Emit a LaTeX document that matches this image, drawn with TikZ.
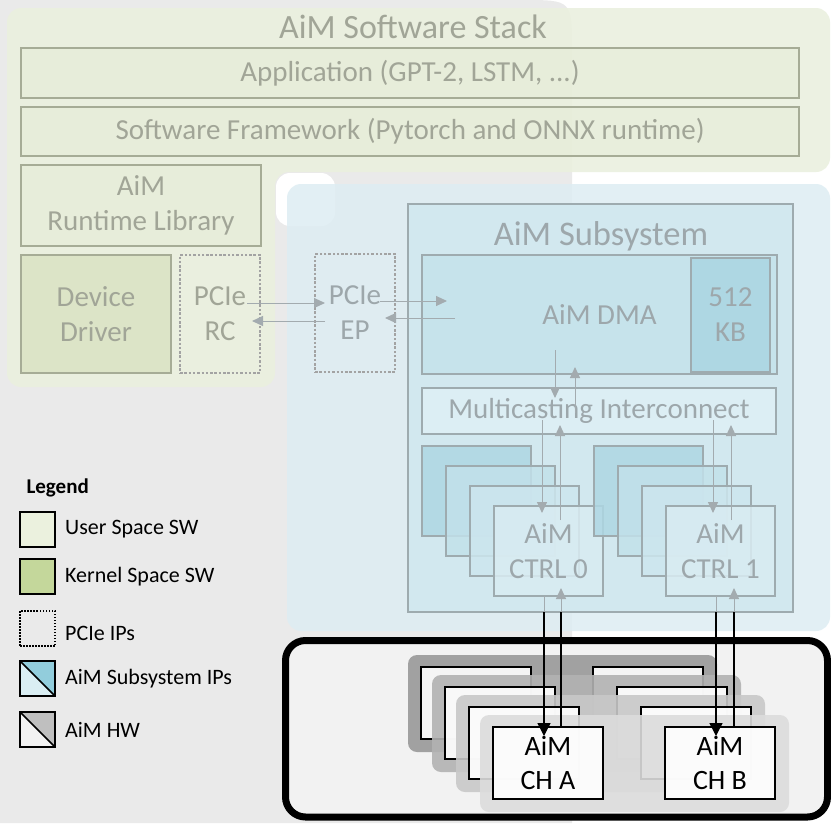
\documentclass[tikz,border=0pt]{standalone}
\usepackage{fontspec}
\setmainfont{Carlito}
\usepackage{tikz}
\usetikzlibrary{arrows.meta,positioning}

\definecolor{bggray}{HTML}{EAEAEA}
\definecolor{swpanel}{HTML}{EAF0DE}
\definecolor{swfill}{HTML}{E4ECD6}
\definecolor{kdfill}{HTML}{CBD8AB}
\definecolor{swline}{HTML}{A6AC96}
\definecolor{swtext}{HTML}{A1A597}
\definecolor{pcieline}{HTML}{A3A3A3}
\definecolor{ippanel}{HTML}{DEEDF3}
\definecolor{ssfill}{HTML}{D2E8EF}
\definecolor{dmafill}{HTML}{C6E3EB}
\definecolor{kbfill}{HTML}{AED7E3}
\definecolor{mifill}{HTML}{DCEEF4}
\definecolor{c2fill}{HTML}{C2E1EA}
\definecolor{c3fill}{HTML}{CDE6EE}
\definecolor{c4fill}{HTML}{D9ECF2}
\definecolor{ipline}{HTML}{9EABAF}
\definecolor{iptext}{HTML}{9DA7AB}
\definecolor{arrgray}{HTML}{A3ABAF}
\definecolor{hwbg}{HTML}{F2F2F2}
\definecolor{hw1}{HTML}{999999}
\definecolor{hw2}{HTML}{B2B2B2}
\definecolor{hw3}{HTML}{C8C8C8}
\definecolor{hw4}{HTML}{DCDCDC}
\definecolor{lguser}{HTML}{EBF1DE}
\definecolor{lgkern}{HTML}{C4D79B}
\definecolor{lgipd}{HTML}{92CDDC}
\definecolor{lgipl}{HTML}{DAEEF3}
\definecolor{lghw}{HTML}{BFBFBF}

\begin{document}
\begin{tikzpicture}[x=1pt,y=-1pt,
  blk/.style={inner sep=0pt,outer sep=0pt,anchor=north west,align=center,line width=1.5pt},
  swbox/.style={blk,draw=swline,fill=swfill,fill opacity=0.45,text opacity=1,text=swtext,font=\fontsize{29}{35}\selectfont},
  pcie/.style={blk,draw=pcieline,dash pattern=on 2.5pt off 1.8pt,line width=1.3pt,minimum width=80pt,minimum height=118pt,font=\fontsize{29}{35}\selectfont},
  ipbox/.style={blk,draw=ipline,text=iptext,font=\fontsize{29}{35}\selectfont},
  ctrl/.style={ipbox,fill=#1,minimum width=109pt,minimum height=90pt,fill opacity=0.85,text opacity=1},
  hwlayer/.style={fill=#1,fill opacity=0.9,rounded corners=9pt},
  chan/.style={blk,draw=black,fill=white,fill opacity=0.9,text opacity=1,minimum width=110pt,minimum height=72pt,font=\fontsize{28}{34}\selectfont},
  arr/.style={draw=arrgray,line width=1pt,-{Triangle[length=11pt,width=10pt]}},
  hwarr/.style={draw=black,line width=1.3pt,-{Triangle[length=13pt,width=13pt]}},
  swatch/.style={blk,draw=black,minimum width=35pt,minimum height=35pt},
  halfbox/.style={path picture={
    \fill[#1] (path picture bounding box.north west) -- (path picture bounding box.north east) -- (path picture bounding box.south east) -- cycle;
    \draw[line width=1.5pt] (path picture bounding box.north west) -- (path picture bounding box.south east);}},
  lgtext/.style={inner sep=0pt,anchor=west,font=\fontsize{22}{26}\selectfont},
]
\useasboundingbox (0,0) rectangle (831,823);

% background
\fill[white] (0,0) rectangle (831,823);
\fill[bggray] (0,823) -- (0,0) -- (522,0) .. controls (572,0) .. (572,50) -- (572,823) -- cycle;

% software stack
\fill[swpanel,fill opacity=0.88,rounded corners=14pt] (7,8) -- (830,8) -- (830,172) -- (275,172) -- (275,387) -- (7,387) -- cycle;
\node[anchor=base,text=swtext,font=\fontsize{34}{40}\selectfont] (swtitle) at (413,38) {AiM Software Stack};
\node[swbox,minimum width=778pt,minimum height=50pt] (app) at (21,48) {Application (GPT-2, LSTM, ...)};
\node[swbox,minimum width=778pt,minimum height=49pt] (fw) at (21,107) {Software Framework (Pytorch and ONNX runtime)};
\node[swbox,minimum width=240pt,minimum height=81pt] (rt) at (21,165) {AiM\\Runtime Library};
\node[swbox,fill=kdfill,minimum width=150pt,minimum height=118pt] (drv) at (21,255) {Device\\Driver};
\node[pcie,text=swtext] (rc) [right=9pt of drv.north east,anchor=north west] {PCIe\\RC};

% AiM subsystem
\fill[white,rounded corners=14pt] (276,173) rectangle (335,226);
\fill[ippanel,fill opacity=0.85,rounded corners=14pt] (287,184) rectangle (830,631);
\node[pcie,text=iptext] (ep) at (315,254) {PCIe\\EP};
\node[ipbox,fill=ssfill,line width=1.8pt,minimum width=385pt,minimum height=408pt] (ss) at (408,204) {};
\node[anchor=base,text=iptext,font=\fontsize{34.5}{40}\selectfont] (sstitle) at (601,245) {AiM Subsystem};
\node[ipbox,fill=dmafill,minimum width=355pt,minimum height=119pt] (dma) at (422,255) {AiM DMA};
\node[ipbox,fill=kbfill,line width=2pt,minimum width=79pt,minimum height=114pt] (kb) at (691,258) {512\\KB};
\node[ipbox,fill=mifill,minimum width=354pt,minimum height=46pt] (mi) [below=14pt of dma.south west,anchor=north west] {Multicasting Interconnect};
\node[ctrl=kbfill] (c01) at (422,446) {};
\node[ctrl=c2fill] (c02) at (446,466) {};
\node[ctrl=c3fill] (c03) at (470,486) {};
\node[ctrl=c4fill] (c04) at (494,506) {AiM\\CTRL 0};
\node[ctrl=kbfill] (c11) at (594,446) {};
\node[ctrl=c2fill] (c12) at (618,466) {};
\node[ctrl=c3fill] (c13) at (642,486) {};
\node[ctrl=c4fill] (c14) at (666,506) {AiM\\CTRL 1};

% PCIe links
\draw[arr,shorten <=-13pt,shorten >=-10pt] ([yshift=11pt]rc.east) -- ([yshift=10pt]ep.west);
\draw[arr,shorten <=-10pt,shorten >=-8pt] ([yshift=-8pt]ep.west) -- ([yshift=-7pt]rc.east);
\draw[arr,shorten <=-15pt,shorten >=-25pt] ([yshift=12pt]ep.east) -- ([yshift=13.5pt]dma.west);
\draw[arr,shorten <=-33pt,shorten >=-10pt] ([yshift=-3.5pt]dma.west) -- ([yshift=-5pt]ep.east);
% DMA and interconnect
\draw[arr,shorten <=-24pt,shorten >=-10pt] ([xshift=-44.5pt]dma.south) -- ([xshift=-44pt]mi.north);
\draw[arr,shorten <=-25pt,shorten >=-7pt] ([xshift=-24pt]mi.north) -- ([xshift=-24.5pt]dma.south);
\draw[arr,shorten <=-14pt,shorten >=-7pt] ([xshift=-57pt]mi.south) -- ([xshift=-6.5pt]c04.north);
\draw[arr,shorten <=-14pt,shorten >=-9pt] ([xshift=11.5pt]c04.north) -- ([xshift=-39pt]mi.south);
\draw[arr,shorten <=-14pt,shorten >=-7pt] ([xshift=114pt]mi.south) -- ([xshift=-7.5pt]c14.north);
\draw[arr,shorten <=-14pt,shorten >=-9pt] ([xshift=10.5pt]c14.north) -- ([xshift=132pt]mi.south);

% AiM HW
\node[blk,draw=black,line width=7pt,fill=hwbg,rounded corners=20pt,minimum width=542pt,minimum height=176.5pt] (hw) at (285.5,640.5) {};
\fill[hwlayer=hw1] (408,655) rectangle (717,752);
\node[chan] (a1) at (421,667) {};
\node[chan] (b1) at (593,667) {};
\fill[hwlayer=hw2] (432,675) rectangle (741,772);
\node[chan] (a2) at (445,687) {};
\node[chan] (b2) at (617,687) {};
\fill[hwlayer=hw3] (456,695) rectangle (765,792);
\node[chan] (a3) at (469,707) {};
\node[chan] (b3) at (641,707) {};
\fill[hwlayer=hw4] (480,715) rectangle (789,812);
\node[chan] (cha) at (493,727) {AiM\\CH A};
\node[chan] (chb) at (665,727) {AiM\\CH B};

% controllers to channels
\draw[arrgray,line width=1pt] ([xshift=-4.5pt]c04.south) -- ([xshift=-4.5pt]c04.south |- ss.south);
\draw[hwarr,shorten >=-9pt] ([xshift=-4.5pt]c04.south |- ss.south) -- ([xshift=-4pt]cha.north);
\draw[black,line width=1.3pt] ([xshift=13pt]cha.north) -- ([xshift=12.5pt]c04.south |- ss.south);
\draw[arr,shorten >=-8pt] ([xshift=12.5pt]c04.south |- ss.south) -- ([xshift=12.5pt]c04.south);
\draw[arrgray,line width=1pt] ([xshift=-4.5pt]c14.south) -- ([xshift=-4.5pt]c14.south |- ss.south);
\draw[hwarr,shorten >=-9pt] ([xshift=-4.5pt]c14.south |- ss.south) -- ([xshift=-4pt]chb.north);
\draw[black,line width=1.3pt] ([xshift=14pt]chb.north) -- ([xshift=13.5pt]c14.south |- ss.south);
\draw[arr,shorten >=-8pt] ([xshift=13.5pt]c14.south |- ss.south) -- ([xshift=13.5pt]c14.south);

% legend
\node[anchor=base west,font=\bfseries\fontsize{21}{25}\selectfont] (lgtitle) at (23,493) {Legend};
\node[swatch,fill=lguser] (s1) at (20,512) {};
\node[swatch,fill=lgkern] (s2) at (20,559) {};
\node[swatch,dash pattern=on 1.5pt off 1.5pt] (s3) at (20,611) {};
\node[swatch,fill=lgipl,halfbox=lgipd] (s4) at (20,661) {};
\node[swatch,fill=hwbg,halfbox=lghw] (s5) at (20,712) {};
\node[lgtext] (t1) [right=10pt of s1] {User Space SW};
\node[lgtext] (t2) [right=10pt of s2] {Kernel Space SW};
\node[lgtext] (t3) [right=10pt of s3,yshift=-5pt] {PCIe IPs};
\node[lgtext] (t4) [right=10pt of s4] {AiM Subsystem IPs};
\node[lgtext] (t5) [right=10pt of s5] {AiM HW};
\end{tikzpicture}
\end{document}
